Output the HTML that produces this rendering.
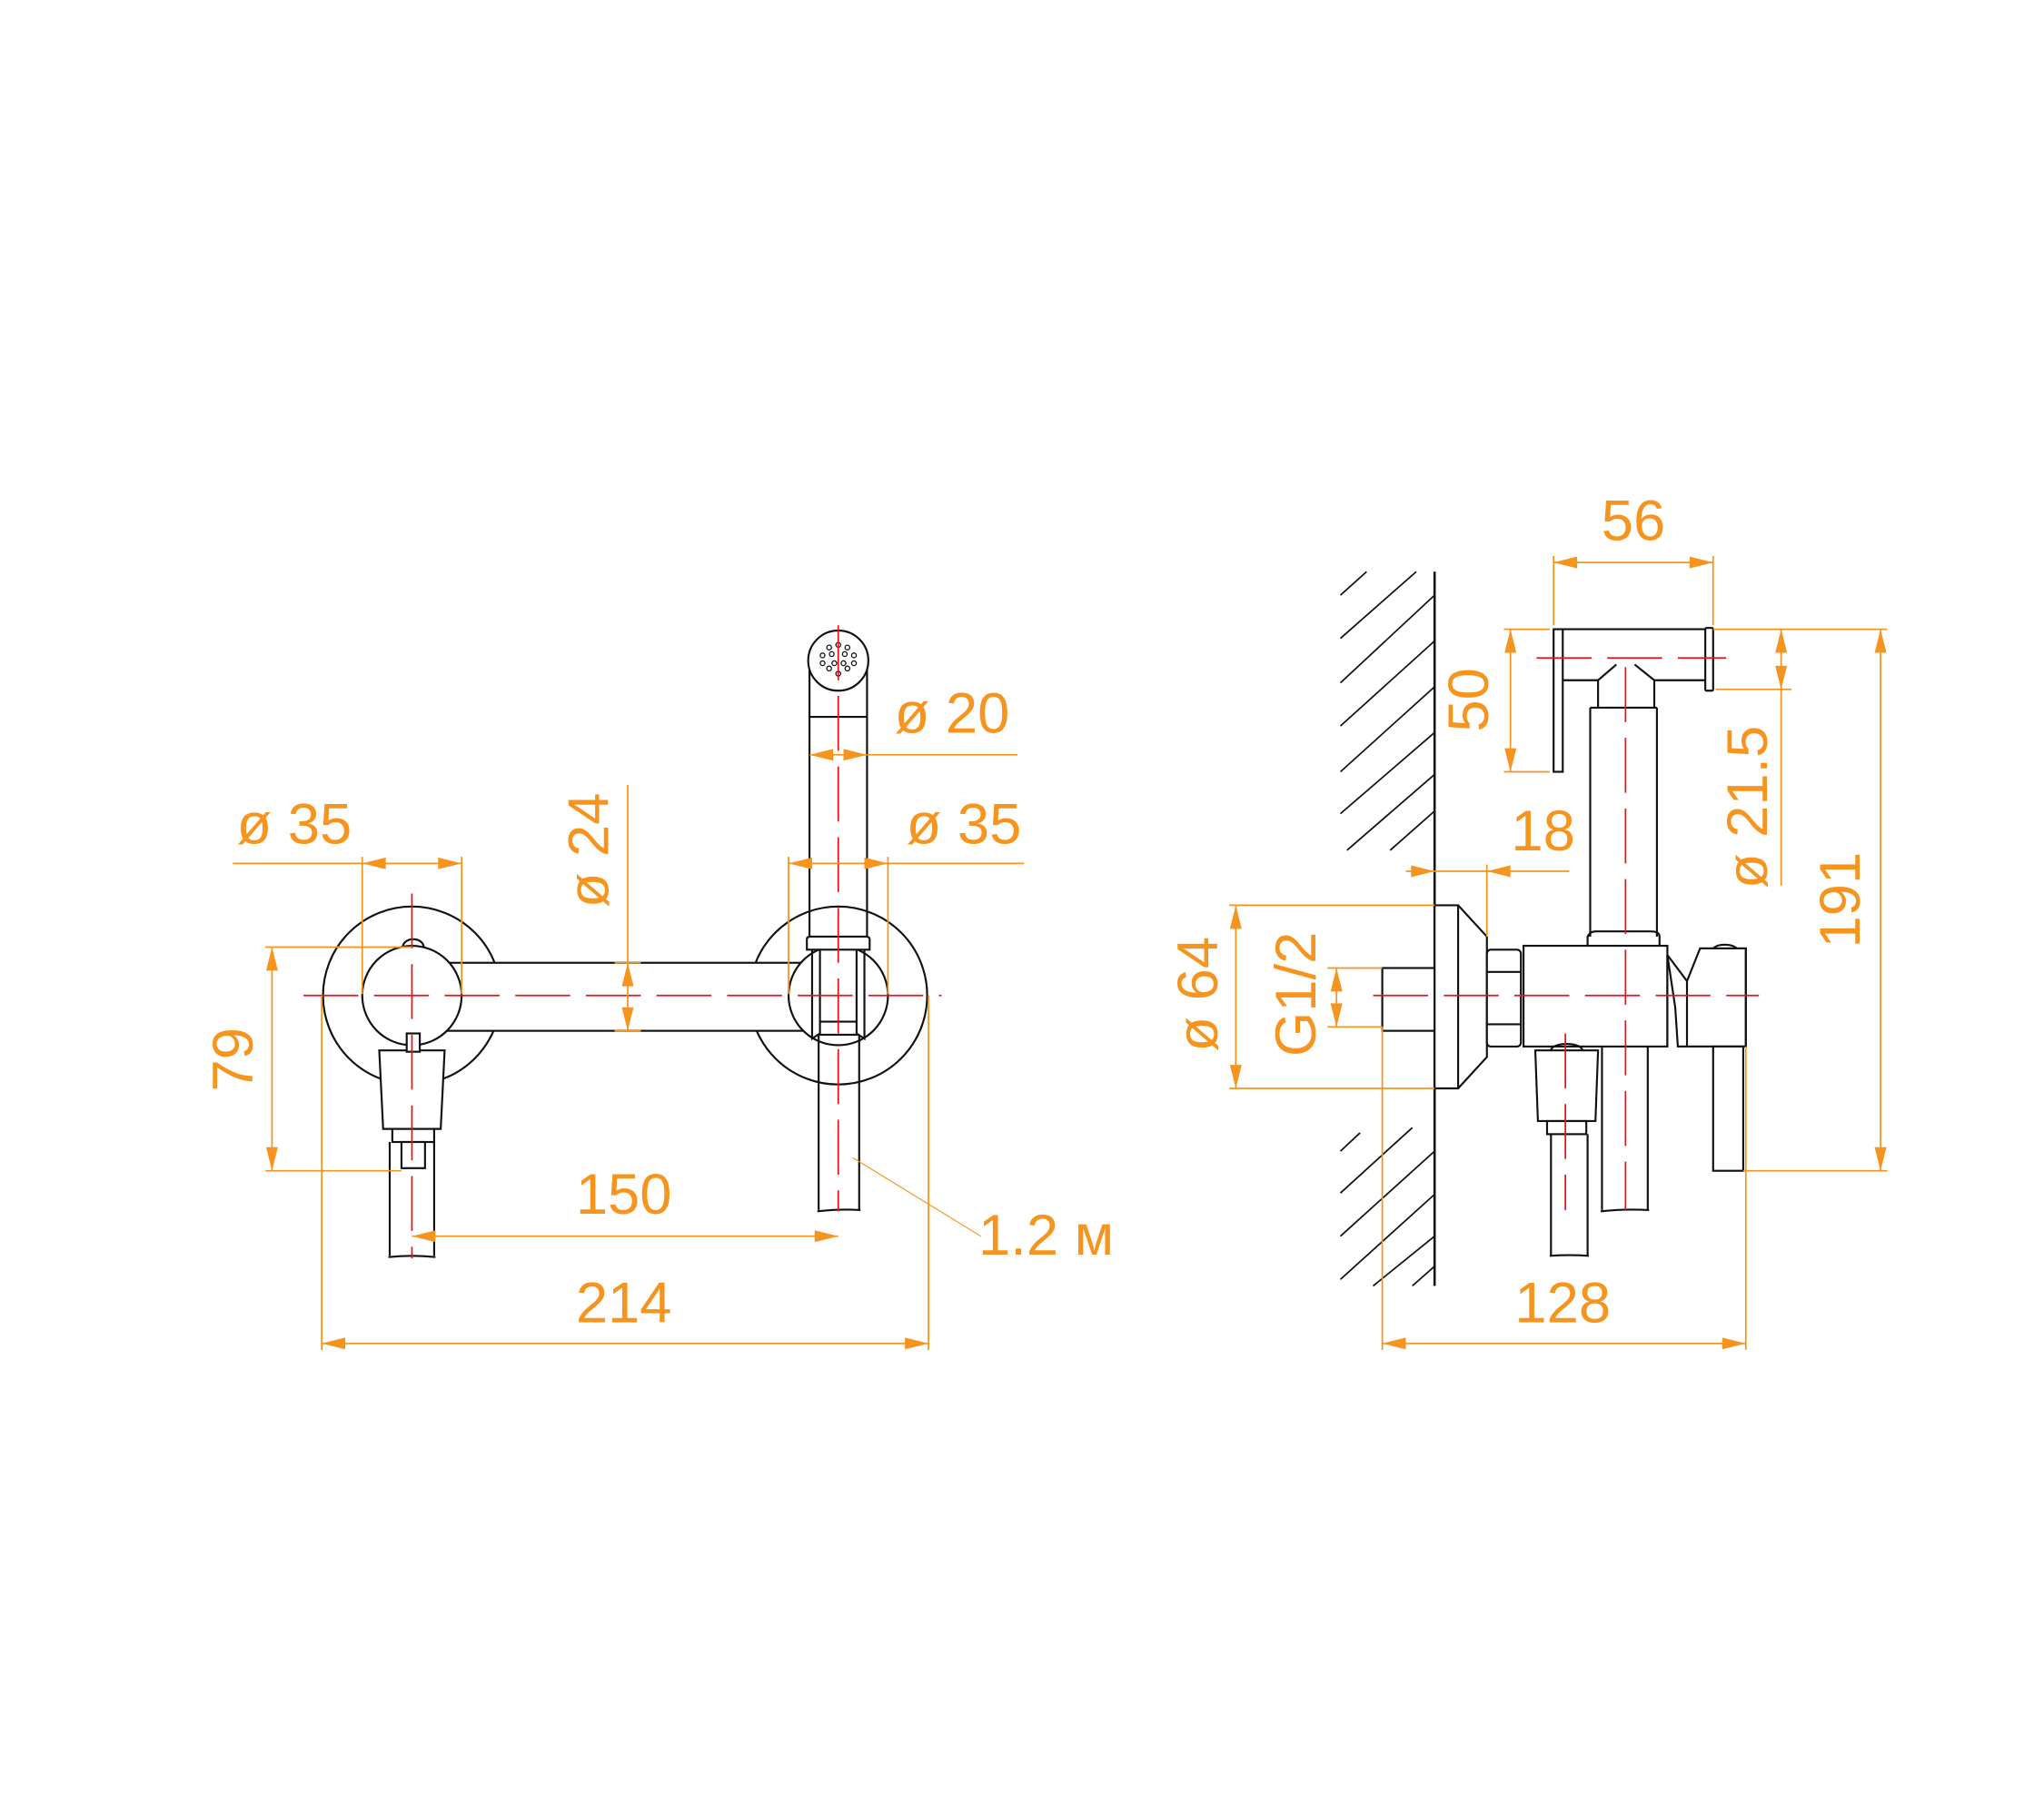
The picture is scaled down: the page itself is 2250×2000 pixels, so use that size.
<!DOCTYPE html>
<html><head><meta charset="utf-8"><style>html,body{margin:0;padding:0;background:#fff}svg{display:block}</style></head><body>
<svg width="2250" height="2000" viewBox="0 0 1563 1389" preserveAspectRatio="none" xmlns="http://www.w3.org/2000/svg">
<defs>
<marker id="a" viewBox="0 0 20 10" refX="20" refY="5" markerWidth="20" markerHeight="9" markerUnits="userSpaceOnUse" orient="auto-start-reverse"><path d="M0,0 L20,5 L0,10 Z" fill="#f7941d"/></marker>
</defs>
<rect width="1563" height="1389" fill="#fff"/>
<g fill="none" stroke="#111" stroke-width="1.5">
<circle cx="315" cy="761" r="68"/>
<circle cx="641" cy="761" r="68"/>
<rect x="340" y="736" width="280" height="52" fill="#fff"/>
<circle cx="315" cy="761" r="38" fill="#fff"/>
<circle cx="641" cy="761" r="38" fill="#fff"/>
<path d="M308,724 a8,6 0 0 1 16,0"/>
<path d="M290,803 L340,803 L337,863 L293,863 Z" fill="#fff"/>
<rect x="300" y="863" width="32" height="10" fill="#fff"/>
<rect x="307" y="873" width="18" height="20" fill="#fff"/>
<path d="M298,873 V960 M332,873 V960 M297,961 Q315,959 333,961"/>
<rect x="311" y="790" width="10" height="14" fill="#fff"/>
<path d="M619,505 V716 M663,505 V716"/>
<circle cx="641" cy="505" r="23" fill="#fff"/>
<line x1="619" y1="548" x2="663" y2="548"/>
<path d="M617,726 V718 Q617,716 620,716 L662,716 Q665,716 665,718 V726 Z" fill="#fff"/>
<path d="M621,726 V794 L627,790 V726 M661,726 V794 L655,790 V726"/>
<rect x="627" y="781" width="28" height="10" fill="#fff"/>
<path d="M626,791 V925 M657,791 V925 M625,926 Q641,924 658,925"/>
<g stroke-width="0.9">
<circle cx="641" cy="493" r="1.8"/><circle cx="634" cy="495" r="1.8"/><circle cx="648" cy="495" r="1.8"/>
<circle cx="629" cy="501" r="1.8"/><circle cx="653" cy="501" r="1.8"/><circle cx="636" cy="500" r="1.8"/><circle cx="646" cy="500" r="1.8"/>
<circle cx="629" cy="507" r="1.8"/><circle cx="653" cy="507" r="1.8"/><circle cx="634" cy="511" r="1.8"/><circle cx="648" cy="511" r="1.8"/>
<circle cx="641" cy="515" r="1.8"/><circle cx="638" cy="507" r="1.8"/><circle cx="645" cy="507" r="1.8"/>
</g>
<line x1="1097" y1="437" x2="1097" y2="983" stroke-width="1.8"/>
<g stroke-width="1.2">
<path d="M1025,455 L1045,437 M1025,488 L1083,437 M1025,522 L1097,455 M1025,555 L1097,490 M1025,590 L1097,525 M1025,622 L1097,560 M1030,650 L1097,592 M1063,650 L1097,620"/>
<path d="M1025,880 L1040,866 M1025,912 L1080,862 M1025,945 L1097,880 M1025,978 L1097,913 M1050,983 L1097,945 M1080,983 L1097,968"/>
</g>
<rect x="1057" y="740" width="40" height="48" fill="#fff"/>
<path d="M1097,692 H1115 L1137,716 V808 L1115,832 H1097 Z" fill="#fff"/>
<line x1="1115" y1="692" x2="1115" y2="832"/>
<rect x="1137" y="726" width="26" height="74" rx="3" fill="#fff"/>
<path d="M1137,743 H1163 M1137,783 H1163"/>
<rect x="1165" y="723" width="110" height="77" fill="#fff"/>
<path d="M1216,541 V716 M1267,541 V716"/>
<path d="M1214,723 V716 Q1216,712 1220,712 H1262 Q1269,712 1269,716 V723"/>
<path d="M1188,481 H1306 M1195,520 H1222 L1236,508 M1250,508 L1265,520 H1306 M1222,520 V541 M1265,520 V541 M1216,541 H1267"/>
<rect x="1188" y="481" width="7" height="109" fill="#fff"/>
<rect x="1304" y="480" width="6" height="48" rx="1" fill="#fff"/>
<path d="M1275,730 L1290,750 L1300,725 H1335 V800 H1283 L1281,770 Z" fill="#fff"/>
<path d="M1275,800 V730 M1290,750 V800 M1300,725 H1335 V800 H1283"/>
<path d="M1310,725 a10,5 0 0 1 18,0"/>
<rect x="1310" y="800" width="23" height="95" fill="#fff"/>
<path d="M1174,803 H1222 L1220,857 H1176 Z" fill="#fff"/>
<path d="M1186,803 a12,5 0 0 1 24,0"/>
<rect x="1183" y="857" width="30" height="10" fill="#fff"/>
<path d="M1186,867 V960 M1214,867 V960 M1185,960 Q1200,959 1215,960"/>
<path d="M1225,800 V925 M1260,800 V925 M1224,926 Q1242,924 1261,925"/>
</g>
<g stroke="#e8121b" stroke-width="1.2" fill="none" stroke-dasharray="42,12">
<line x1="232" y1="761" x2="720" y2="761"/>
<line x1="315" y1="683" x2="315" y2="962"/>
<line x1="641" y1="478" x2="641" y2="926"/>
<line x1="1050" y1="761" x2="1345" y2="761"/>
<line x1="1243" y1="510" x2="1243" y2="925"/>
<line x1="1175" y1="503" x2="1320" y2="503"/>
<line x1="1197" y1="790" x2="1197" y2="925"/>
</g>
<g stroke="#f7941d" stroke-width="1.2" fill="none">
<line x1="178" y1="660" x2="277" y2="660"/>
<line x1="277" y1="660" x2="353" y2="660" marker-start="url(#a)" marker-end="url(#a)"/>
<path d="M277,655 V760 M353,655 V760"/>
<line x1="480" y1="600" x2="480" y2="736"/>
<line x1="480" y1="736" x2="480" y2="788" marker-start="url(#a)" marker-end="url(#a)"/>
<path d="M470,736 H490 M470,788 H490"/>
<line x1="619" y1="577" x2="663" y2="577" marker-start="url(#a)" marker-end="url(#a)"/>
<line x1="663" y1="577" x2="778" y2="577"/>
<line x1="603" y1="660" x2="679" y2="660" marker-start="url(#a)" marker-end="url(#a)"/>
<line x1="679" y1="660" x2="783" y2="660"/>
<path d="M603,655 V760 M679,655 V760"/>
<line x1="208" y1="724" x2="208" y2="895" marker-start="url(#a)" marker-end="url(#a)"/>
<path d="M203,724 H315 M203,895 H307"/>
<line x1="315" y1="945" x2="641" y2="945" marker-start="url(#a)" marker-end="url(#a)"/>
<line x1="246" y1="1027" x2="710" y2="1027" marker-start="url(#a)" marker-end="url(#a)"/>
<path d="M246,761 V1032 M710,761 V1032"/>
<line x1="652" y1="885" x2="750" y2="945" stroke-width="0.8"/>
<line x1="1188" y1="430" x2="1310" y2="430" marker-start="url(#a)" marker-end="url(#a)"/>
<path d="M1188,425 V478 M1310,425 V478"/>
<line x1="1155" y1="481" x2="1155" y2="590" marker-start="url(#a)" marker-end="url(#a)"/>
<path d="M1150,481 H1185 M1150,590 H1185"/>
<line x1="1362" y1="481" x2="1362" y2="527" marker-start="url(#a)" marker-end="url(#a)"/>
<line x1="1362" y1="527" x2="1362" y2="677"/>
<path d="M1310,481 H1443 M1312,527 H1370"/>
<line x1="1438" y1="481" x2="1438" y2="895" marker-start="url(#a)" marker-end="url(#a)"/>
<path d="M1333,895 H1443"/>
<line x1="1075" y1="666" x2="1097" y2="666" marker-end="url(#a)"/>
<line x1="1097" y1="666" x2="1137" y2="666"/>
<line x1="1200" y1="666" x2="1137" y2="666" marker-end="url(#a)"/>
<path d="M1137,661 V716"/>
<line x1="945" y1="692" x2="945" y2="832" marker-start="url(#a)" marker-end="url(#a)"/>
<path d="M940,692 H1097 M940,832 H1097"/>
<line x1="1022" y1="740" x2="1022" y2="785" marker-start="url(#a)" marker-end="url(#a)"/>
<path d="M1015,740 H1057 M1015,785 H1057"/>
<line x1="1057" y1="1027" x2="1335" y2="1027" marker-start="url(#a)" marker-end="url(#a)"/>
<path d="M1057,785 V1032 M1335,800 V1032"/>
</g>
<g fill="#f7941d" font-family="Liberation Sans, sans-serif" font-size="44" text-anchor="middle">
<text x="225" y="645">ø 35</text>
<text x="728" y="560">ø 20</text>
<text x="737" y="645">ø 35</text>
<text x="477" y="928">150</text>
<text x="477" y="1011">214</text>
<text x="800" y="959">1.2 м</text>
<text x="1249" y="413">56</text>
<text x="1180" y="650">18</text>
<text x="1195" y="1011">128</text>
<text transform="translate(465,650) rotate(-90)">ø 24</text>
<text transform="translate(193,810) rotate(-90)">79</text>
<text transform="translate(1138,535) rotate(-90)">50</text>
<text transform="translate(1351,617) rotate(-90)">ø 21.5</text>
<text transform="translate(1422,688) rotate(-90)">191</text>
<text transform="translate(931,760) rotate(-90)">ø 64</text>
<text transform="translate(1006,760) rotate(-90)">G1/2</text>
</g>
</svg>
</body></html>
